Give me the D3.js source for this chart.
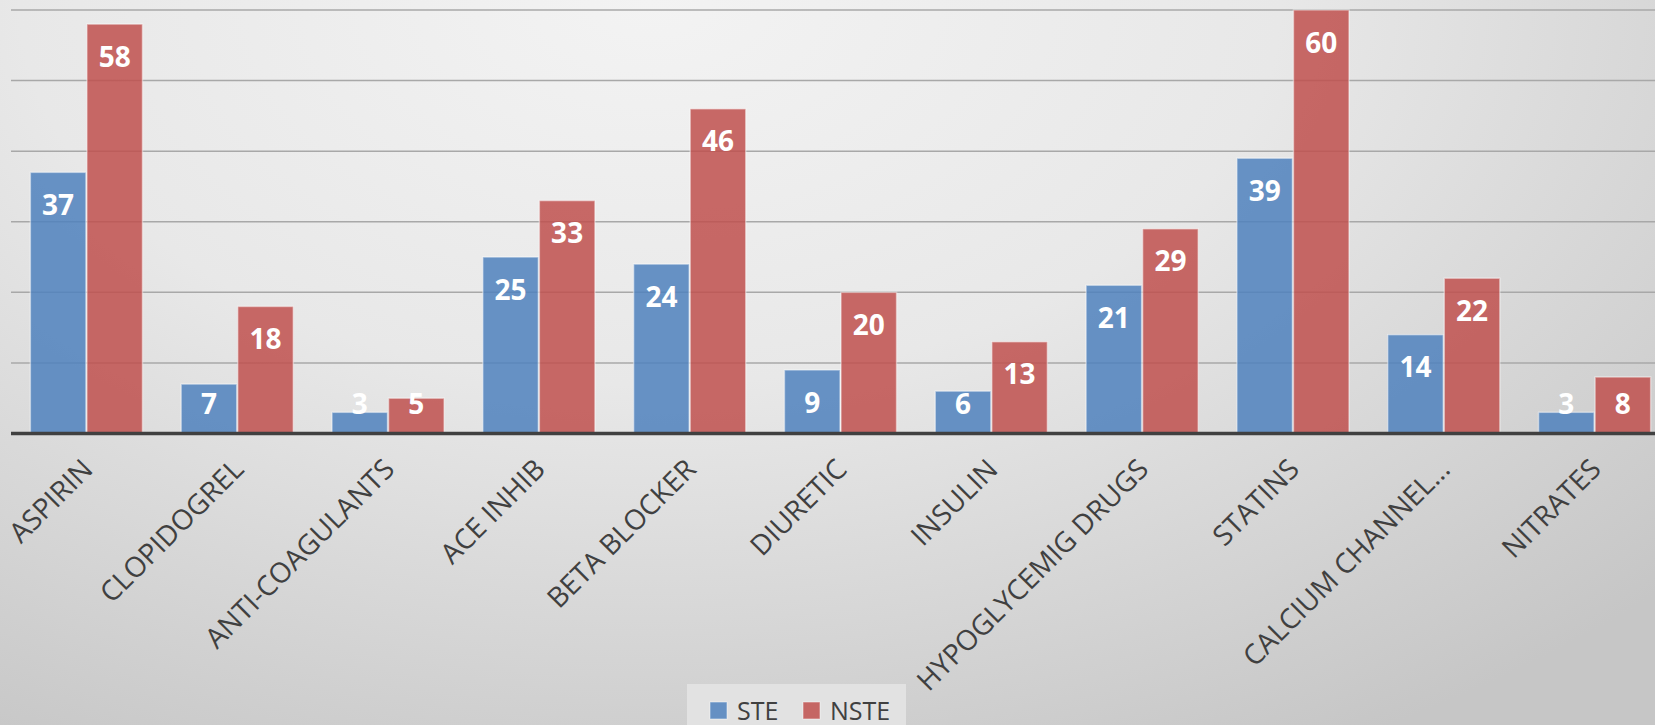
<!DOCTYPE html>
<html>
<head>
<meta charset="utf-8">
<script src="https://cdn.jsdelivr.net/npm/d3@7"></script>
<style>
  html, body { margin: 0; padding: 0; overflow: hidden; }
  svg { display: block; }
</style>
</head>
<body>
<div class="chart"></div>
<script>
// drug use by presentation type

var categories = ["ASPIRIN", "CLOPIDOGREL", "ANTI-COAGULANTS", "ACE INHIB", "BETA BLOCKER",
  "DIURETIC", "INSULIN", "HYPOGLYCEMIG DRUGS", "STATINS", "CALCIUM CHANNEL...", "NITRATES"];
var seriesNames = ["STE", "NSTE"];
var steValues = [37, 7, 3, 25, 24, 9, 6, 21, 39, 14, 3];
var nsteValues = [58, 18, 5, 33, 46, 20, 13, 29, 60, 22, 8];
var gridTicks = [10, 20, 30, 40, 50, 60];

var width = 1655,
    height = 725,
    plotLeft = 11,
    plotRight = 1670,
    baseline = 433.5,
    plotTop = 10;

var colors = {STE: "#4F81BD", NSTE: "#C0504D"};

var svg = d3.select(".chart").append("svg")
    .attr("width", width)
    .attr("height", height);

// background gradient
var defs = svg.append("defs");
var grad = defs.append("radialGradient")
    .attr("id", "bg")
    .attr("gradientUnits", "userSpaceOnUse")
    .attr("cx", 650).attr("cy", 0)
    .attr("r", 1400)
    .attr("gradientTransform", "translate(650,0) scale(1,0.61) translate(-650,0)");
grad.append("stop").attr("offset", 0).attr("stop-color", "#f3f3f3");
grad.append("stop").attr("offset", 0.45).attr("stop-color", "#e8e8e8");
grad.append("stop").attr("offset", 1).attr("stop-color", "#c6c6c6");

svg.append("rect")
    .attr("width", width)
    .attr("height", height)
    .attr("fill", "url(#bg)");

var x = d3.scaleBand()
    .domain(categories)
    .range([plotLeft, plotRight])
    .paddingInner(0.25)
    .paddingOuter(0.125);

var xs = d3.scaleBand()
    .domain(seriesNames)
    .range([0, x.bandwidth()]);

var y = d3.scaleLinear()
    .domain([0, 60])
    .range([baseline, plotTop]);

// gridlines
svg.append("g")
  .selectAll("line")
  .data(gridTicks)
  .enter().append("line")
    .attr("x1", plotLeft)
    .attr("x2", width)
    .attr("y1", function(d) { return y(d); })
    .attr("y2", function(d) { return y(d); })
    .attr("stroke", "#a8a8a8")
    .attr("stroke-width", 1.5);

var rows = categories.map(function(c, i) {
  return [
    {cat: c, key: "STE", value: steValues[i]},
    {cat: c, key: "NSTE", value: nsteValues[i]}
  ];
});

var groups = svg.append("g")
  .selectAll("g")
  .data(rows)
  .enter().append("g")
    .attr("transform", function(d) { return "translate(" + x(d[0].cat) + ",0)"; });

groups.selectAll("rect")
  .data(function(d) { return d; })
  .enter().append("rect")
    .attr("x", function(d) { return xs(d.key) + 0.5; })
    .attr("y", function(d) { return y(d.value); })
    .attr("width", xs.bandwidth() - 1)
    .attr("height", function(d) { return baseline - y(d.value); })
    .attr("fill", function(d) { return colors[d.key]; })
    .attr("fill-opacity", 0.85)
    .attr("stroke", "#ffffff")
    .attr("stroke-opacity", 0.45)
    .attr("stroke-width", 1.5);

// value labels
groups.selectAll("text")
  .data(function(d) { return d; })
  .enter().append("text")
    .attr("x", function(d) { return xs(d.key) + xs.bandwidth() / 2; })
    .attr("y", function(d) { return Math.min(y(d.value) + 32.5, baseline - 29.5); })
    .attr("dy", "0.36em")
    .attr("text-anchor", "middle")
    .attr("fill", "#ffffff")
    .style("font-family", "'Open Sans', sans-serif")
    .style("font-weight", "bold")
    .style("font-size", "28px")
    .text(function(d) { return d.value; });

// category axis
svg.append("line")
    .attr("x1", plotLeft)
    .attr("x2", width)
    .attr("y1", baseline)
    .attr("y2", baseline)
    .attr("stroke", "#404040")
    .attr("stroke-width", 3.5);

svg.append("g")
  .selectAll("text")
  .data(categories)
  .enter().append("text")
    .attr("transform", function(d) {
      return "translate(" + (x(d) + x.bandwidth() / 2 + 8) + ",471) rotate(-45)";
    })
    .attr("text-anchor", "end")
    .attr("fill", "#404040")
    .style("font-family", "'Open Sans', sans-serif")
    .style("font-size", "28px")
    .text(function(d) { return d; });

// legend
var legend = svg.append("g");
legend.append("rect")
    .attr("x", 687)
    .attr("y", 684)
    .attr("width", 219)
    .attr("height", 50)
    .attr("fill", "#e2e2e2");

var legendX = [710, 803];
var items = legend.selectAll("g")
  .data(seriesNames)
  .enter().append("g")
    .attr("transform", function(d, i) { return "translate(" + legendX[i] + ",702)"; });

items.append("rect")
    .attr("width", 17)
    .attr("height", 17)
    .attr("fill", function(d) { return colors[d]; })
    .attr("fill-opacity", 0.85)
    .attr("stroke", "#ffffff")
    .attr("stroke-opacity", 0.5);

items.append("text")
    .attr("x", 27)
    .attr("y", 18)
    .attr("fill", "#404040")
    .style("font-family", "'Open Sans', sans-serif")
    .style("font-size", "25px")
    .text(function(d) { return d; });
</script>
</body>
</html>
